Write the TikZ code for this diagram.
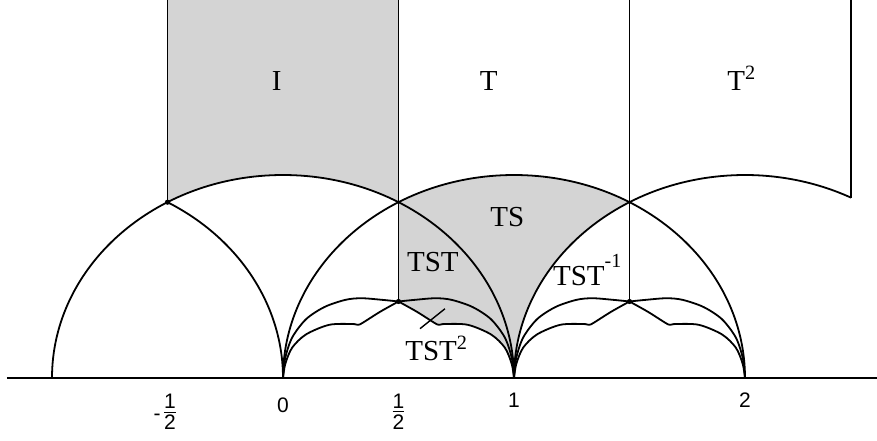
\documentclass[tikz,border=0pt]{standalone}
\usepackage{fontspec}
\setmainfont{Liberation Serif}
\setsansfont{Liberation Sans}
\usepackage{tikz}
\usetikzlibrary{calc}
\definecolor{cShade}{RGB}{212,212,212}
\tikzset{
    geo/.style={line width=0.9pt, black},
    region/.style={fill=cShade},
    lbl/.style={font=\fontsize{14.5}{16}\selectfont, inner sep=0pt, anchor=base west},
    tick/.style={font=\sffamily\fontsize{10.5}{12}\selectfont, inner sep=0pt},
    meet/.style={fill=black},
    lens/.pic={
        \draw[geo] plot[smooth, tension=0.5] coordinates {(0,0) (0.01,0.1) (0.04,0.2) (0.1,0.29) (0.18,0.35) (0.27,0.385) (0.34,0.393) (0.43,0.385) (0.5,0.377)};
        \draw[geo] plot[smooth, tension=0.5] coordinates {(0.5,0.377) (0.58,0.326) (0.655,0.272) (0.675,0.262) (0.7,0.266) (0.8,0.262) (0.9,0.215) (0.96,0.15) (0.99,0.07) (1,0)};
        \draw[geo] plot[smooth, tension=0.5] coordinates {(0,0) (0.01,0.07) (0.04,0.15) (0.1,0.215) (0.2,0.262) (0.3,0.266) (0.325,0.262) (0.345,0.272) (0.42,0.326) (0.5,0.377)};
        \draw[geo] plot[smooth, tension=0.5] coordinates {(0.5,0.377) (0.57,0.385) (0.66,0.393) (0.73,0.385) (0.82,0.35) (0.9,0.29) (0.96,0.2) (0.99,0.1) (1,0)};
    },
}
\newcommand{\halffrac}{\begin{tabular}{@{}c@{}}1\\[-2pt]\hline\rule{0pt}{8.5pt}2\end{tabular}}

\begin{document}
\begin{tikzpicture}[x=115.5pt, y=101.5pt]
    \useasboundingbox (-1.2251,-0.3054) rectangle (2.5714,1.8621);
    \coordinate (rhoL) at (-0.5,{sqrt(3)/2});
    \coordinate (rhoM) at (0.5,{sqrt(3)/2});
    \coordinate (rhoR) at (1.5,{sqrt(3)/2});
    \coordinate (meetA) at (0.5,0.377);
    \coordinate (meetB) at (1.5,0.377);
    \coordinate (edgeR) at (2.459,0.888);
    % shaded regions
    \fill[region] (-0.5,1.8621) -- (rhoL) arc[start angle=120, end angle=60, radius=1] -- (0.5,1.8621) -- cycle;
    \fill[region] (rhoM) -- (meetA)
        -- plot[smooth, tension=0.5] coordinates {(0.5,0.377) (0.58,0.326) (0.655,0.272) (0.675,0.262) (0.7,0.266) (0.8,0.262) (0.9,0.215) (0.96,0.15) (0.99,0.07) (1,0)}
        arc[start angle=180, end angle=120, radius=1]
        arc[start angle=60, end angle=120, radius=1] -- cycle;
    % axis and big arcs
    \draw[geo] (-1.195,0) -- (2.5714,0);
    \draw[geo] (-1,0) arc[start angle=180, end angle=0, radius=1];
    \draw[geo] (0,0) arc[start angle=0, end angle=60, radius=1];
    \draw[geo] (0,0) arc[start angle=180, end angle=0, radius=1];
    \draw[geo] (1,0) arc[start angle=180, end angle=62.68, radius=1];
    % vertical sides
    \draw[geo] (-0.5,1.8621) -- (rhoL);
    \draw[geo] (0.5,1.8621) -- (meetA);
    \draw[geo] (1.5,1.8621) -- (meetB);
    \draw[geo] (2.459,1.8621) -- (edgeR);
    % small arcs
    \pic at (0,0) {lens};
    \pic at (1,0) {lens};
    \foreach \p in {rhoL, meetA, meetB}
        \fill[meet] (\p) circle[radius=1.3pt];
    % labels
    \node[lbl] (labelI) at (-0.05,1.415) {I};
    \node[lbl] (labelT) at (0.85,1.415) {T};
    \node[lbl] (labelTT) at (1.922,1.418) {T\textsuperscript{2}};
    \node[lbl] (labelTS) at (0.896,0.745) {TS};
    \node[lbl] (labelTST) at (0.5355,0.524) {TST};
    \node[lbl] (labelTSTinv) at (1.1675,0.458) {TST\raisebox{1.3ex}{\fontsize{10}{12}\selectfont -1}};
    \node[lbl] (labelTSTsq) at (0.528,0.0887) {TST\textsuperscript{2}};
    \coordinate (ptrFoot) at (0.593,0.243);
    \coordinate (ptrTip) at (0.701,0.341);
    \draw[line width=0.7pt] (ptrFoot) -- (ptrTip);
    % axis labels
    \node[tick] (tickMhalf) at (-0.489,-0.18) {\llap{-\,}\halffrac};
    \node[tick] (tickZero) at (0,-0.135) {0};
    \node[tick] (tickHalf) at (0.5,-0.177) {\halffrac};
    \node[tick] (tickOne) at (1,-0.111) {1};
    \node[tick] (tickTwo) at (2,-0.111) {2};
\end{tikzpicture}
\end{document}
